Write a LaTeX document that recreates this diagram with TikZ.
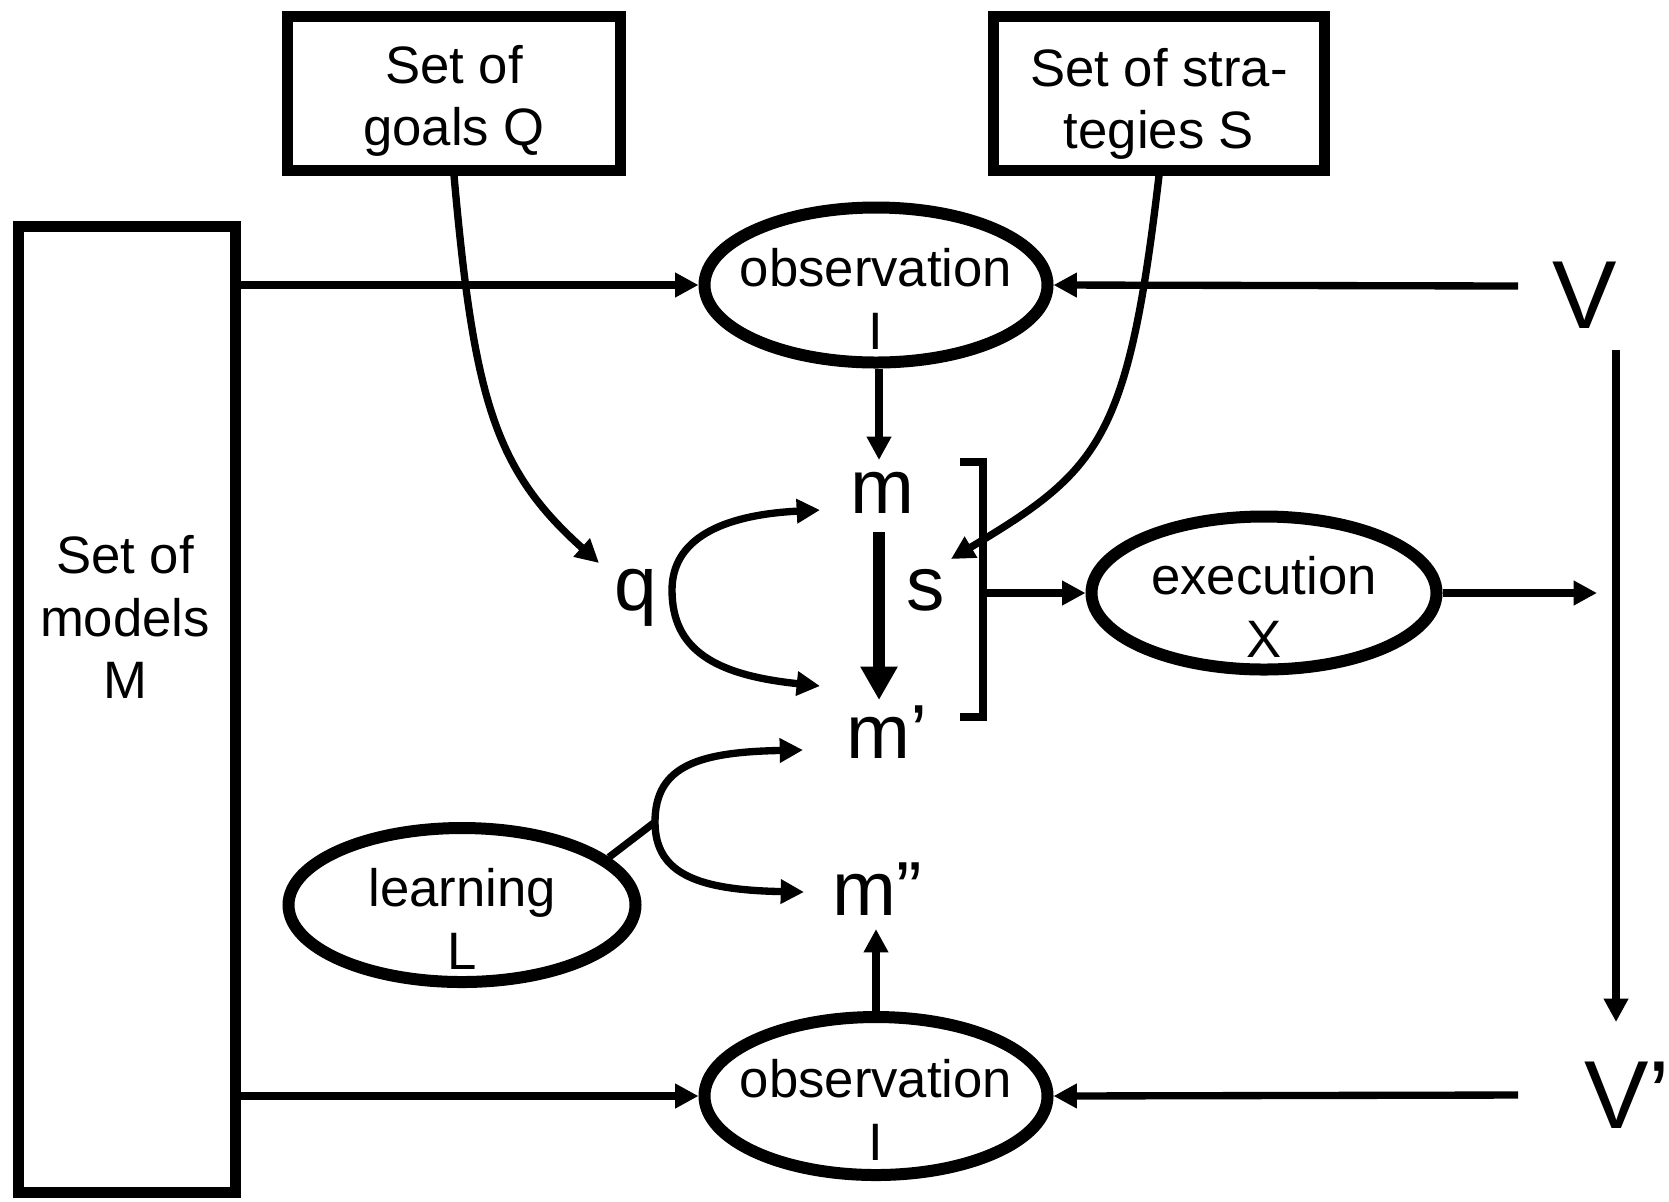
\documentclass[tikz,border=0pt]{standalone}
\usepackage{fontspec}
\setmainfont{Liberation Sans}
\usetikzlibrary{arrows.meta,shapes.geometric}
\begin{document}
\begin{tikzpicture}[x=0.3pt,y=-0.3pt,
  >={Triangle[length=7pt,width=7pt]},
  setbox/.style={draw,rectangle,line width=3.3pt,inner sep=0pt},
  oval/.style={draw,ellipse,line width=3.6pt,inner sep=0pt},
  lbl/.style={font=\fontsize{15.8}{18.7}\selectfont,align=center,inner sep=0pt},
  sym/.style={font=\fontsize{23}{27}\selectfont,inner sep=4pt,anchor=base},
  bigsym/.style={font=\fontsize{29}{34}\selectfont,inner sep=0pt,anchor=base},
  conn/.style={line width=2.2pt,->},
  both/.style={line width=2.2pt,<->},
  plain/.style={line width=2.2pt},
  heavy/.style={line width=3.6pt,-{Triangle[length=10pt,width=10.5pt]}}]
\useasboundingbox (0,0) rectangle (1669,1201);

% boxes
\node[setbox,minimum width=99.9pt,minimum height=46.2pt] (goals) at (454,93) {};
\node[lbl] (goalstext) at (454,101) {Set of\\goals Q};
\node[setbox,minimum width=99.3pt,minimum height=46.2pt] (strat) at (1159,93) {};
\node[lbl] (strattext) at (1159,104) {Set of stra-\\tegies S};
\node[setbox,minimum width=65.1pt,minimum height=289.8pt] (models) at (127,709) {};
\node[lbl] (modelstext) at (125,617) {Set of\\models\\M};

% ovals
\node[oval,minimum width=102.9pt,minimum height=46.5pt] (obs1) at (876,285) {};
\node[lbl] (obs1text) at (876,299) {observation\\I};
\node[oval,minimum width=103.5pt,minimum height=45.9pt] (exec) at (1264,593) {};
\node[lbl] (exectext) at (1264,607) {execution\\X};
\node[oval,minimum width=104.1pt,minimum height=46.2pt] (learn) at (462,905) {};
\node[lbl] (learntext) at (462,919) {learning\\L};
\node[oval,minimum width=102.9pt,minimum height=47.4pt] (obs2) at (876,1096) {};
\node[lbl] (obs2text) at (876,1110) {observation\\I};

% symbols
\node[sym] (m) at (882,513) {m};
\node[sym] (s) at (926,610) {s};
\node[sym] (q) at (636,610) {q};
\node[sym] (mp) at (887,758) {m’};
\node[sym] (mpp) at (877,915) {m”};
\node[bigsym] (V) at (1585,328) {V};
\node[bigsym] (Vp) at (1627,1128) {V’};

% free ends
\coordinate (vin) at (1518,286);
\coordinate (vin2) at (1518,1095);
\coordinate (vtop) at (1616,350);
\coordinate (vbot) at (1616,1022);
\coordinate (execout) at (1597,593);
\coordinate (bt) at (960,462);
\coordinate (bm) at (983,593);
\coordinate (bb) at (960,717);
\coordinate (qa) at (820,510);
\coordinate (qb) at (820,686);
\coordinate (la) at (803,750);
\coordinate (lb) at (804,892);
\coordinate (lj) at (655,822);
\coordinate (gtip) at (599,563);
\coordinate (stip) at (951,559);
\coordinate (mtip) at (879,460);
\coordinate (mstart) at (879,532);
\coordinate (mend) at (879,700);

% connectors
\draw[conn] (models.east |- obs1) -- (obs1.west);
\draw[conn] (models.east |- obs2.west) -- (obs2.west);
\draw[conn] (vin) -- (obs1.east);
\draw[conn] (vin2) -- (obs2.east);
\draw[conn] (vtop) -- (vbot);
\draw[conn] (obs1.south -| mtip) -- (mtip);
\draw[heavy] (mstart) -- (mend);
\draw[conn] (obs2.north) -- (obs2.north |- mpp.south);
\draw[conn] (goals.south) .. controls (474,400) and (495,470) .. (gtip);
\draw[conn] (strat.south) .. controls (1128,440) and (1100,470) .. (stip);
\draw[both] (qa) .. controls (720,515) and (672,540) .. (672,590)
  .. controls (672,650) and (715,675) .. (qb);
\draw[both] (la) .. controls (700,752) and (655,765) .. (lj)
  .. controls (655,875) and (700,890) .. (lb);
\draw[plain] (learn.18) -- (lj);
\draw[plain] (bt) -- (bt -| bm) -- (bb -| bm) -- (bb);
\draw[conn] (bm) -- (exec.west);
\draw[conn] (exec.east) -- (execout);
\end{tikzpicture}
\end{document}
